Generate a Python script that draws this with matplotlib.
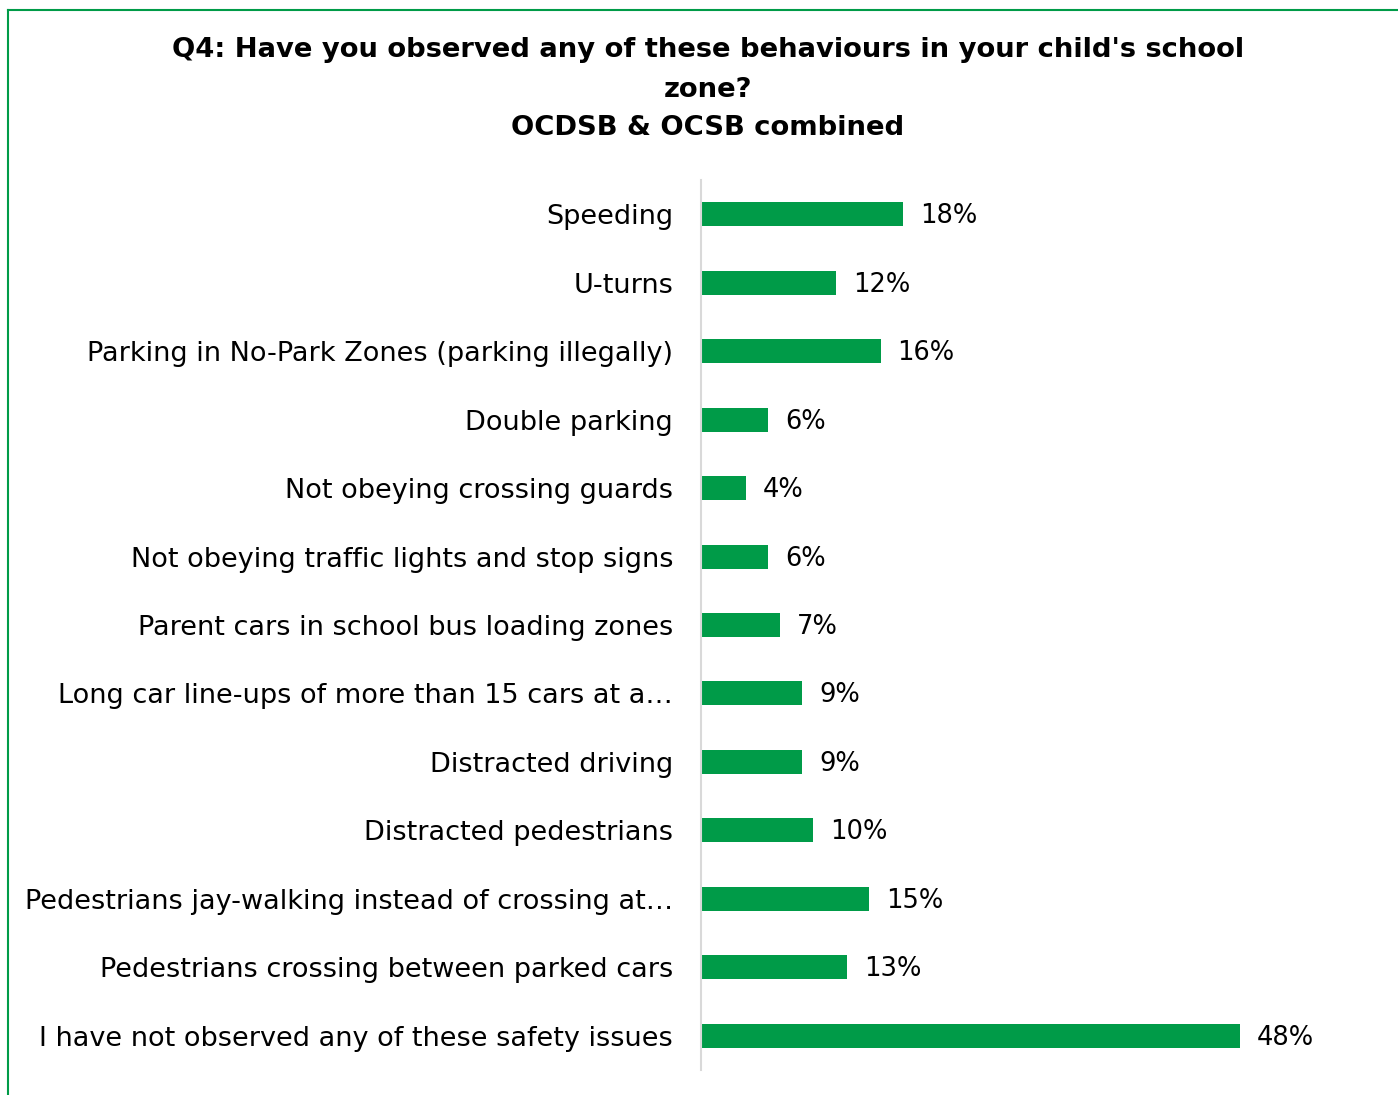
import matplotlib
matplotlib.use("Agg")
import matplotlib.pyplot as plt
from matplotlib.lines import Line2D

categories = [
    "Speeding",
    "U-turns",
    "Parking in No-Park Zones (parking illegally)",
    "Double parking",
    "Not obeying crossing guards",
    "Not obeying traffic lights and stop signs",
    "Parent cars in school bus loading zones",
    "Long car line-ups of more than 15 cars at a\u2026",
    "Distracted driving",
    "Distracted pedestrians",
    "Pedestrians jay-walking instead of crossing at\u2026",
    "Pedestrians crossing between parked cars",
    "I have not observed any of these safety issues",
]
values = [18, 12, 16, 6, 4, 6, 7, 9, 9, 10, 15, 13, 48]
value_labels = ["18%", "12%", "16%", "6%", "4%", "6%", "7%", "9%", "9%", "10%", "15%", "13%", "48%"]

GREEN = "#009B48"
FONT = "DejaVu Sans"

W, H = 1398, 1095
fig = plt.figure(figsize=(W / 100, H / 100), dpi=100)

left, right, top, bottom = 701, 1380, 180, 1070
ax = fig.add_axes([left / W, 1 - bottom / H, (right - left) / W, (bottom - top) / H])

y = list(range(len(categories)))
ax.barh(y, values, height=0.35, color=GREEN)
ax.set_ylim(len(categories) - 0.5, -0.5)
ax.set_xlim(0, 60.5)

for yi, v, lab in zip(y, values, value_labels):
    ax.annotate(lab, (v, yi), xytext=(17, -2), textcoords="offset pixels",
                ha="left", va="center", fontsize=18.5, family=FONT, color="#000000")

ax.set_yticks(y)
ax.set_yticklabels(categories, fontsize=19.5, family=FONT)
ax.tick_params(axis="y", length=0, pad=20)
ax.set_xticks([])
for s in ["top", "right", "bottom"]:
    ax.spines[s].set_visible(False)
ax.spines["left"].set_color("#d9d9d9")
ax.spines["left"].set_linewidth(1.5)

title_lines = ["Q4: Have you observed any of these behaviours in your child's school",
               "zone?",
               "OCDSB & OCSB combined"]
for ty, line in zip([50, 90, 128], title_lines):
    fig.text(708 / W, 1 - ty / H, line, ha="center", va="center",
             fontsize=19.7, fontweight="bold", family=FONT)

# green frame along the top and left edges
fig.add_artist(Line2D([8 / W, 1.0], [1 - 10 / H, 1 - 10 / H], color=GREEN, lw=1.5, transform=fig.transFigure))
fig.add_artist(Line2D([8 / W, 8 / W], [0, 1 - 10 / H], color=GREEN, lw=1.5, transform=fig.transFigure))

fig.savefig("out.png", dpi=100, facecolor="white")
